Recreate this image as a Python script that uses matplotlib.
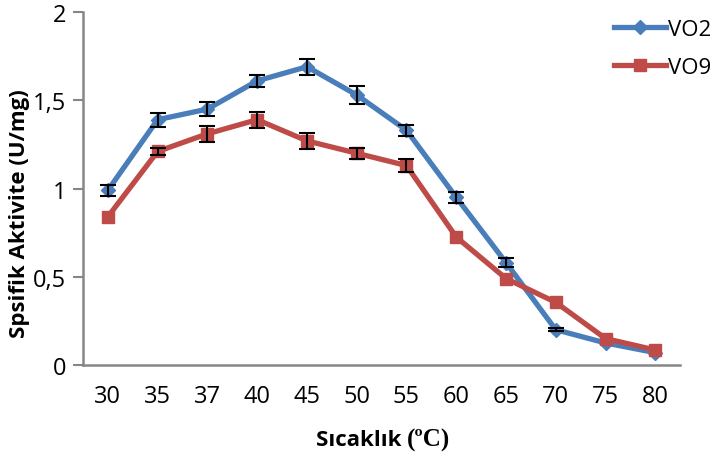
import matplotlib
matplotlib.use("Agg")
import matplotlib.pyplot as plt
import numpy as np

categories = ["30", "35", "37", "40", "45", "50", "55", "60", "65", "70", "75", "80"]
vo2 = [0.99, 1.39, 1.45, 1.61, 1.69, 1.53, 1.33, 0.95, 0.58, 0.20, 0.125, 0.07]
vo2_err = [0.03, 0.04, 0.04, 0.035, 0.045, 0.05, 0.03, 0.03, 0.025, 0.01, 0.0, 0.0]
vo9 = [0.84, 1.21, 1.31, 1.39, 1.27, 1.20, 1.13, 0.725, 0.49, 0.355, 0.15, 0.085]
vo9_err = [0.0, 0.02, 0.045, 0.045, 0.045, 0.03, 0.035, 0.0, 0.0, 0.0, 0.0, 0.0]
yticks = [0, 0.5, 1, 1.5, 2]
ytick_labels = ["0", "0,5", "1", "1,5", "2"]

plt.rcParams['font.family'] = ['Open Sans', 'DejaVu Sans']

fig = plt.figure(figsize=(7.13, 4.60), dpi=100)
ax = fig.add_axes([0.1164, 0.2043, 0.8376, 0.7674])

x = np.arange(len(categories))
blue = "#4A7EBB"
red = "#BE4B48"

def draw_err(vals, errs):
    vals = np.array(vals); errs = np.array(errs)
    m = errs > 0
    ax.errorbar(x[m], vals[m], yerr=errs[m], fmt='none', ecolor='black',
                elinewidth=1.5, capsize=5.5, capthick=1.5, zorder=4)

draw_err(vo2, vo2_err)
draw_err(vo9, vo9_err)
l1, = ax.plot(x, vo2, color=blue, lw=3.8, marker='D', markersize=7, label="VO2", zorder=3)
l2, = ax.plot(x, vo9, color=red, lw=3.8, marker='s', markersize=9, label="VO9", zorder=3)

ax.set_xlim(-0.5, len(categories) - 0.5)
ax.set_ylim(0, 2)
ax.set_xticks(x)
ax.set_xticklabels(categories)
ax.set_yticks(yticks)
ax.set_yticklabels(ytick_labels)

for s in ['top', 'right']:
    ax.spines[s].set_visible(False)
for s in ['left', 'bottom']:
    ax.spines[s].set_color('#868686')
    ax.spines[s].set_linewidth(1.8)

ax.tick_params(axis='y', length=7, width=1.5, color='#868686', labelsize=17, pad=5)
ax.tick_params(axis='x', length=0, labelsize=17, pad=14)

# x label: sans part + serif part
fig.canvas.draw()
r = fig.canvas.get_renderer()
t1 = fig.text(0, 0.043, "Sıcaklık ", ha='left', va='center', fontsize=16, fontweight='bold')
t2 = fig.text(0, 0.043, "(ºC)", ha='left', va='center', fontsize=18, fontweight='bold',
              family=['Liberation Serif', 'DejaVu Serif'])
w1 = t1.get_window_extent(r).width
w2 = t2.get_window_extent(r).width
cx = 383.0
x0 = cx - (w1 + w2) / 2
t1.set_x(x0 / 713.0)
t2.set_x((x0 + w1) / 713.0)

fig.text(0.028, 0.535, "Spsifik Aktivite (U/mg)", ha='center', va='center', rotation=90,
         fontsize=16, fontweight='bold')

leg = fig.legend(handles=[l1, l2], loc='upper left', bbox_to_anchor=(0.843, 0.985),
                 frameon=False, fontsize=16, handlelength=2.3, handletextpad=0.1,
                 labelspacing=0.75, borderaxespad=0.2)

fig.savefig("out.png", dpi=100)
